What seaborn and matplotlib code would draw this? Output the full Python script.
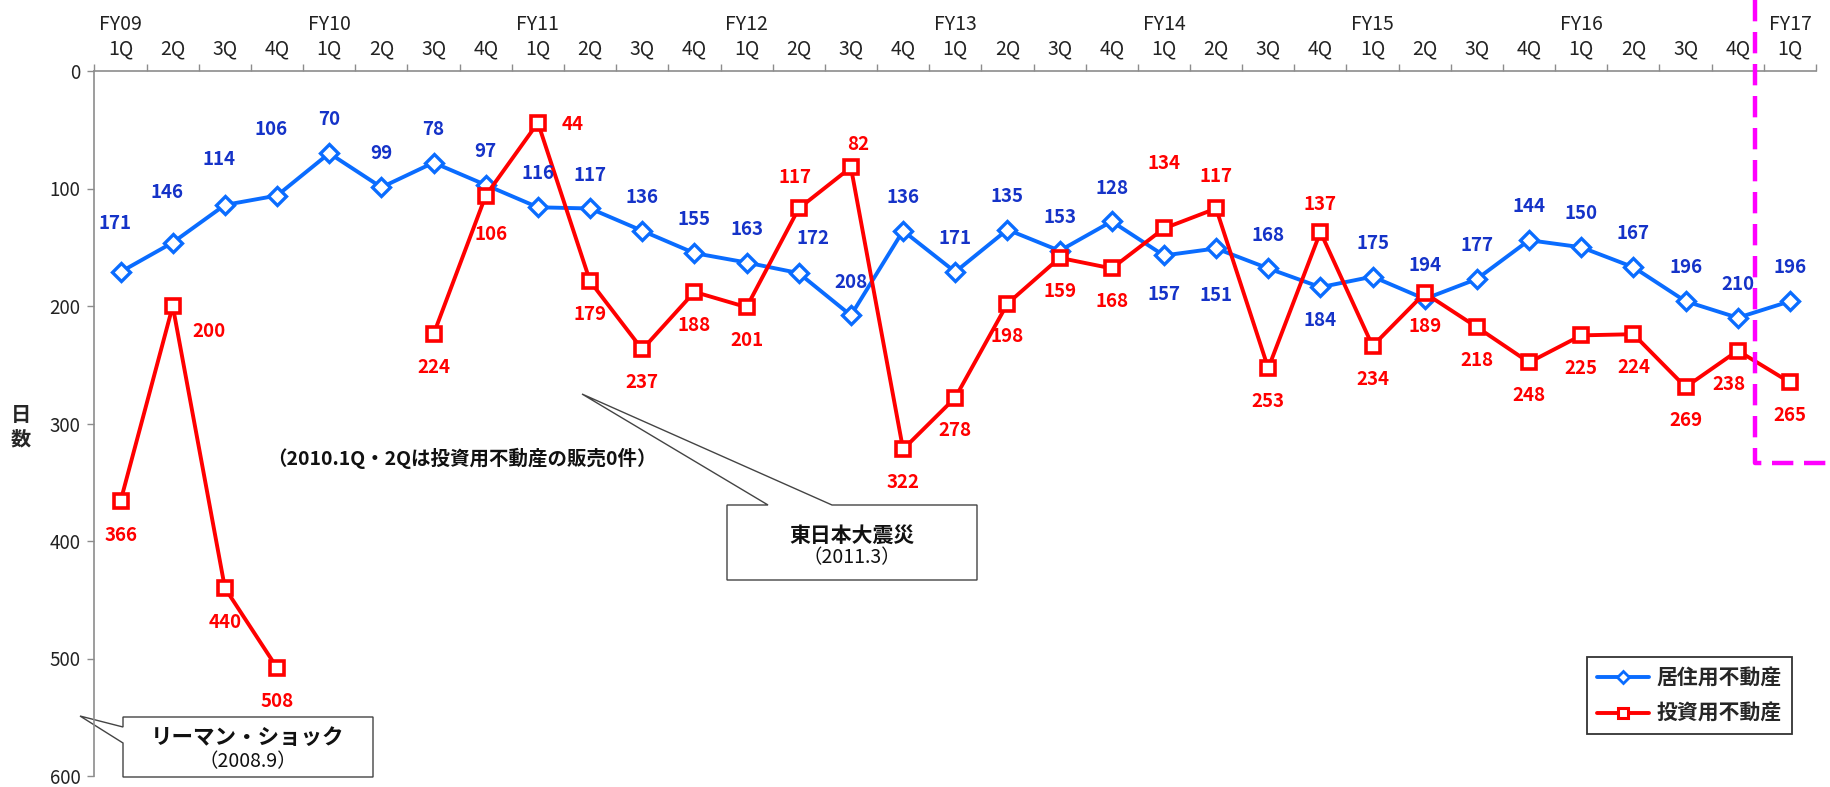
import numpy as np
import pandas as pd
import matplotlib
matplotlib.use("Agg")
import matplotlib.pyplot as plt
import matplotlib.transforms as mtransforms
from matplotlib.lines import Line2D
from matplotlib.patches import Polygon
import seaborn as sns

# ---- data ----
fiscal_years = ["FY09", "FY10", "FY11", "FY12", "FY13", "FY14", "FY15", "FY16", "FY17"]
quarter_names = ["1Q", "2Q", "3Q", "4Q"]
n_periods = 33

residential = [171, 146, 114, 106, 70, 99, 78, 97, 116, 117, 136, 155, 163, 172, 208, 136,
               171, 135, 153, 128, 157, 151, 168, 184, 175, 194, 177, 144, 150, 167, 196, 210, 196]
investment = [366, 200, 440, 508, np.nan, np.nan, 224, 106, 44, 179, 237, 188, 201, 117, 82, 322,
              278, 198, 159, 168, 134, 117, 253, 137, 234, 189, 218, 248, 225, 224, 269, 238, 265]

series_names = ["居住用不動産", "投資用不動産"]

tick_labels = []
for fy in fiscal_years:
    for q in quarter_names:
        tick_labels.append(f"{fy}\n{q}" if q == "1Q" else f"\n{q}")
tick_labels = tick_labels[:n_periods]

# label offsets (points) for data labels that are moved from the default spot
blue_offsets = {0: (-4, 35), 1: (-4, 36), 2: (-4, 33), 3: (-4, 47.5), 13: (10, 25),
                20: (0, -28), 21: (0, -34), 23: (0, -24)}
red_offsets = {0: (0, -25), 1: (26, -18.7), 2: (0, -25), 7: (4, -28), 8: (25, -1.5),
               13: (-3, 22), 14: (5, 16.5), 20: (0, 47), 21: (0, 23), 23: (0, 19.5),
               31: (-6, -24.5)}

df = pd.DataFrame({"period": range(n_periods), "res": residential, "inv": investment})
df["seg"] = df["inv"].isna().cumsum()

blue = "#0A6CFF"
blue_txt = "#1533C8"
red = "#FF0000"
gray = "#8C8C8C"

sns.set_theme(style="white")
plt.rcParams["font.family"] = ["Noto Sans CJK JP", "DejaVu Sans"]

fig = plt.figure(figsize=(18.31, 7.87), dpi=100)
ax = fig.add_axes([94.5 / 1831, 1 - 776 / 787, (1816 - 94.5) / 1831, (776 - 71) / 787])

# transform in reference pixel coordinates (for callouts etc.)
pix = mtransforms.Affine2D().scale(1 / 1831, -1 / 787).translate(0, 1) + fig.transFigure

sns.lineplot(data=df, x="period", y="res", ax=ax, color=blue, lw=2.8,
             marker="D", markersize=9.5, markerfacecolor="white",
             markeredgecolor=blue, markeredgewidth=2.4, legend=False, zorder=3)
sns.lineplot(data=df.dropna(), x="period", y="inv", units="seg", estimator=None, ax=ax,
             color=red, lw=2.8, marker="s", markersize=10.5, markerfacecolor="white",
             markeredgecolor=red, markeredgewidth=2.6, legend=False, zorder=4)

for i, v in enumerate(residential):
    ax.annotate(str(v), (i, v), xytext=blue_offsets.get(i, (0, 24)), textcoords="offset points",
                ha="center", va="center", color=blue_txt, fontsize=13.5, fontweight="bold", zorder=5)
for i, v in enumerate(investment):
    if np.isnan(v):
        continue
    ax.annotate(str(int(v)), (i, v), xytext=red_offsets.get(i, (0, -24)), textcoords="offset points",
                ha="center", va="center", color=red, fontsize=13.5, fontweight="bold", zorder=5)

# axes
ax.set_xlim(-0.5, n_periods - 0.5)
ax.set_ylim(600, 0)
ax.set_yticks(range(0, 601, 100))
ax.xaxis.tick_top()
ax.set_xticks(np.arange(-0.5, n_periods, 1))
ax.set_xticklabels([])
ax.set_xticks(np.arange(n_periods), minor=True)
ax.set_xticklabels(tick_labels, minor=True)
for t in ax.get_xticklabels(minor=True):
    t.set_linespacing(1.25)
ax.tick_params(axis="x", which="major", top=True, length=5, width=1, color=gray, direction="out")
ax.tick_params(axis="x", which="minor", top=True, length=0, pad=8, labelsize=14, labelcolor="#222222")
ax.tick_params(axis="y", left=True, length=5, width=1, color=gray, direction="out", pad=5,
               labelsize=13.5, labelcolor="#222222")
ax.set_xlabel("")
ax.set_ylabel("日\n数", rotation=0, fontsize=14.5, fontweight="bold", linespacing=1.2,
              ha="center", va="center")
ax.yaxis.set_label_coords(-0.0427, 0.496)
ax.grid(False)
for s in ["bottom", "right"]:
    ax.spines[s].set_visible(False)
for s in ["left", "top"]:
    ax.spines[s].set_color(gray)
    ax.spines[s].set_linewidth(1.2)

# note text
ax.text(462, 458, "（2010.1Q・2Qは投資用不動産の販売0件）", transform=pix, ha="center", va="center",
        fontsize=14, fontweight="bold", color="#111111")

# callout: 東日本大震災
quake = Polygon([(727, 505), (768, 505), (582, 394), (832, 505), (977, 505), (977, 580), (727, 580)],
                closed=True, facecolor="white", edgecolor="#444444", lw=1.0, transform=pix,
                clip_on=False, zorder=1.5)
ax.add_patch(quake)
ax.text(852, 535, "東日本大震災", transform=pix, ha="center", va="center", fontsize=15,
        fontweight="bold", color="#111111")
ax.text(852, 558, "（2011.3）", transform=pix, ha="center", va="center", fontsize=14,
        color="#111111")

# callout: リーマン・ショック
lehman = Polygon([(123, 717), (373, 717), (373, 777), (123, 777), (123, 743), (80, 716), (123, 727)],
                 closed=True, facecolor="white", edgecolor="#444444", lw=1.0, transform=pix,
                 clip_on=False, zorder=1.5)
ax.add_patch(lehman)
ax.text(248, 738, "リーマン・ショック", transform=pix, ha="center", va="center", fontsize=15.5,
        fontweight="bold", color="#111111")
ax.text(248, 762, "（2008.9）", transform=pix, ha="center", va="center", fontsize=14,
        color="#111111")

# magenta dashed frame
frame = Line2D([1755, 1755, 1831], [0, 463, 463], transform=pix, color="#FF00FF", lw=3.2,
               linestyle=(0, (4.8, 2.4)), clip_on=False, zorder=6)
fig.add_artist(frame)

# legend
handles = [
    Line2D([], [], color=blue, lw=2.8, marker="D", markersize=6, markerfacecolor="white",
           markeredgecolor=blue, markeredgewidth=2),
    Line2D([], [], color=red, lw=2.8, marker="s", markersize=7, markerfacecolor="white",
           markeredgecolor=red, markeredgewidth=2.2),
]
leg = ax.legend(handles, series_names, loc="upper left", bbox_to_anchor=(1587 / 1831, 1 - 657 / 787),
                bbox_transform=fig.transFigure, borderaxespad=0, fancybox=False, frameon=True,
                edgecolor="black", handlelength=2.5, handletextpad=0.35, borderpad=0.5,
                labelspacing=0.7, prop={"size": 15, "weight": "bold"})
leg.get_frame().set_linewidth(1.3)

fig.savefig("out.png", dpi=100)
